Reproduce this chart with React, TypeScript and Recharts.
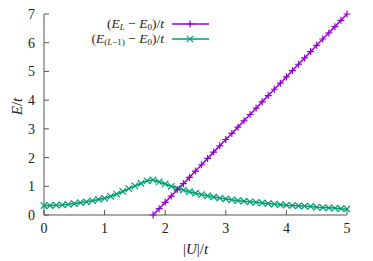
import { LineChart, Line, XAxis, YAxis } from "recharts";

const PURPLE = "#9400d3";
const GREEN = "#009e73";
const AXIS = "#555555";
const FONT = "'Liberation Serif', serif";

// (E_L - E_0)/t
const uL = [1.8, 1.9, 2.0, 2.1, 2.2, 2.3, 2.4, 2.5, 2.6, 2.7, 2.8, 2.9, 3.0, 3.1, 3.2, 3.3, 3.4, 3.5, 3.6, 3.7, 3.8, 3.9, 4.0, 4.1, 4.2, 4.3, 4.4, 4.5, 4.6, 4.7, 4.8, 4.9, 5.0];
const gapL = [0, 0.22, 0.44, 0.66, 0.88, 1.09, 1.31, 1.53, 1.75, 1.97, 2.19, 2.41, 2.63, 2.84, 3.06, 3.28, 3.5, 3.72, 3.94, 4.16, 4.38, 4.59, 4.81, 5.03, 5.25, 5.47, 5.69, 5.91, 6.13, 6.34, 6.56, 6.78, 7.0];

// (E_(L-1) - E_0)/t
const uL1 = [0, 0.1, 0.2, 0.3, 0.4, 0.5, 0.6, 0.7, 0.8, 0.9, 1.0, 1.1, 1.2, 1.3, 1.4, 1.5, 1.6, 1.7, 1.8, 1.9, 2.0, 2.1, 2.2, 2.3, 2.4, 2.5, 2.6, 2.7, 2.8, 2.9, 3.0, 3.1, 3.2, 3.3, 3.4, 3.5, 3.6, 3.7, 3.8, 3.9, 4.0, 4.1, 4.2, 4.3, 4.4, 4.5, 4.6, 4.7, 4.8, 4.9, 5.0];
const gapL1 = [0.33, 0.33, 0.34, 0.35, 0.37, 0.4, 0.43, 0.46, 0.5, 0.54, 0.58, 0.65, 0.73, 0.82, 0.92, 1.01, 1.1, 1.19, 1.22, 1.15, 1.08, 1.0, 0.93, 0.87, 0.81, 0.76, 0.71, 0.67, 0.63, 0.59, 0.56, 0.53, 0.5, 0.48, 0.46, 0.44, 0.42, 0.4, 0.38, 0.36, 0.34, 0.33, 0.32, 0.31, 0.3, 0.27, 0.26, 0.25, 0.24, 0.22, 0.21];

const xTicks = [0, 1, 2, 3, 4, 5];
const yTicks = [0, 1, 2, 3, 4, 5, 6, 7];

const dataL = uL.map((u, i) => ({ u, e: gapL[i] }));
const dataL1 = uL1.map((u, i) => ({ u, e: gapL1[i] }));

const PlusDot = (props: any) => {
  const { cx, cy } = props;
  if (cx == null || cy == null) return null;
  return <path d={`M${cx - 3.5},${cy}h7M${cx},${cy - 3.5}v7`} stroke={PURPLE} strokeWidth={1.2} fill="none" />;
};

const CrossDot = (props: any) => {
  const { cx, cy } = props;
  if (cx == null || cy == null) return null;
  return <path d={`M${cx - 3.2},${cy - 3.2}l6.4,6.4M${cx - 3.2},${cy + 3.2}l6.4,-6.4`} stroke={GREEN} strokeWidth={1.2} fill="none" />;
};

const sub = { fontSize: 9, lineHeight: "9px", verticalAlign: "-2px" } as const;

function LegendRow({ top, color, cross, children }: any) {
  return (
    <>
      <div style={{ position: "absolute", top: top - 7, right: 373 - 164, height: 14, lineHeight: "14px", fontSize: 13.5, whiteSpace: "nowrap", color: "#222" }}>
        {children}
      </div>
      <svg style={{ position: "absolute", top: top - 7, left: 171 }} width={40} height={14}>
        <line x1={1} y1={7} x2={38} y2={7} stroke={color} strokeWidth={1.5} />
        {cross ? <CrossDot cx={19} cy={7} /> : <PlusDot cx={19} cy={7} />}
      </svg>
    </>
  );
}

export default function App() {
  return (
    <div style={{ position: "absolute", left: 0, top: 0, width: 373, height: 261, fontFamily: FONT, background: "#fff" }}>
      <LineChart width={373} height={261} margin={{ top: 14, right: 26, bottom: 0, left: 0 }}>
        <XAxis
          type="number"
          dataKey="u"
          domain={[0, 5]}
          ticks={xTicks}
          height={46}
          tickSize={-5}
          tickMargin={13}
          stroke={AXIS}
          tick={{ fill: "#222", fontSize: 14, fontFamily: FONT }}
          allowDuplicatedCategory={false}
          label={({ viewBox }: any) => (
            <text x={viewBox.x + viewBox.width / 2} y={viewBox.y + 39} textAnchor="middle" fontSize={15} fontFamily={FONT} fill="#222">
              |<tspan fontStyle="italic">U</tspan>|/<tspan fontStyle="italic">t</tspan>
            </text>
          )}
        />
        <XAxis xAxisId="top" orientation="top" type="number" domain={[0, 5]} ticks={xTicks} height={0} tickSize={-5} tick={false} stroke={AXIS} />
        <YAxis
          type="number"
          domain={[0, 7]}
          ticks={yTicks}
          width={44}
          tickSize={-5}
          tickMargin={14}
          stroke={AXIS}
          tick={{ fill: "#222", fontSize: 14, fontFamily: FONT }}
          label={({ viewBox }: any) => (
            <text transform={`translate(${viewBox.x + 22},${viewBox.y + viewBox.height / 2 - 8}) rotate(-90)`} textAnchor="middle" fontSize={15} fontFamily={FONT} fill="#222">
              <tspan fontStyle="italic">E</tspan>/<tspan fontStyle="italic">t</tspan>
            </text>
          )}
        />
        <YAxis yAxisId="right" orientation="right" type="number" domain={[0, 7]} ticks={yTicks} width={0} tickSize={-5} tick={false} stroke={AXIS} />
        <Line data={dataL1} dataKey="e" stroke={GREEN} strokeWidth={1.5} dot={<CrossDot />} activeDot={false} isAnimationActive={false} />
        <Line data={dataL} dataKey="e" stroke={PURPLE} strokeWidth={1.5} dot={<PlusDot />} activeDot={false} isAnimationActive={false} />
      </LineChart>
      <LegendRow top={23.5} color={PURPLE}>
        (<i>E</i><span style={sub}><i>L</i></span> − <i>E</i><span style={sub}>0</span>)/<i>t</i>
      </LegendRow>
      <LegendRow top={38.5} color={GREEN} cross>
        (<i>E</i><span style={sub}>(<i>L</i>−1)</span> − <i>E</i><span style={sub}>0</span>)/<i>t</i>
      </LegendRow>
    </div>
  );
}
